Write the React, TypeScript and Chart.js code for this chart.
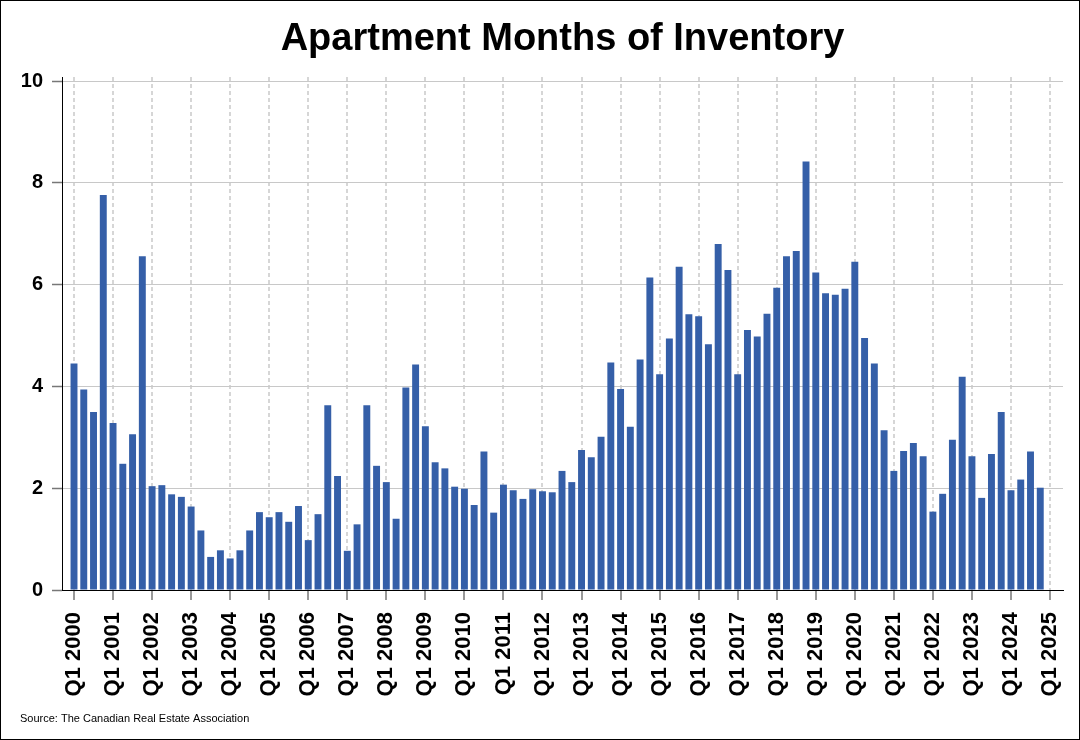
import React, { useEffect, useRef } from "react";
import { Chart, registerables } from "chart.js";

Chart.register(...registerables);

const TITLE = "Apartment Months of Inventory";
const SOURCE = "Source: The Canadian Real Estate Association";
const FONT = "'Liberation Sans', Arial, Helvetica, sans-serif";

// Quarterly months of inventory, Q1 2000 .. Q4 2024
const inventory: number[] = [
  4.45, 3.94, 3.5, 7.76, 3.28, 2.48, 3.06, 6.56,
  2.04, 2.06, 1.88, 1.83, 1.64, 1.17, 0.65, 0.78,
  0.62, 0.78, 1.17, 1.53, 1.43, 1.53, 1.34, 1.65,
  0.98, 1.49, 3.63, 2.24, 0.77, 1.29, 3.63, 2.44,
  2.12, 1.4, 3.98, 4.43, 3.22, 2.51, 2.39, 2.03,
  1.99, 1.67, 2.72, 1.52, 2.07, 1.96, 1.79, 1.98,
  1.94, 1.92, 2.34, 2.12, 2.75, 2.61, 3.01, 4.47,
  3.95, 3.21, 4.53, 6.14, 4.24, 4.94, 6.35, 5.42,
  5.38, 4.83, 6.8, 6.29, 4.24, 5.11, 4.98, 5.43,
  5.94, 6.56, 6.66, 8.42, 6.24, 5.83, 5.8, 5.92,
  6.45, 4.95, 4.45, 3.14, 2.34, 2.73, 2.89, 2.63,
  1.54, 1.89, 2.95, 4.19, 2.63, 1.81, 2.67, 3.5,
  1.96, 2.17, 2.72, 2.01,
];

const xTickLabels: string[] = [
  "Q1 2000", "Q1 2001", "Q1 2002", "Q1 2003", "Q1 2004", "Q1 2005",
  "Q1 2006", "Q1 2007", "Q1 2008", "Q1 2009", "Q1 2010", "Q1 2011",
  "Q1 2012", "Q1 2013", "Q1 2014", "Q1 2015", "Q1 2016", "Q1 2017",
  "Q1 2018", "Q1 2019", "Q1 2020", "Q1 2021", "Q1 2022", "Q1 2023",
  "Q1 2024", "Q1 2025",
];

const yTickValues: number[] = [0, 2, 4, 6, 8, 10];

const QUARTERS_PER_YEAR = 4;

const decorPlugin = {
  id: "decor",
  beforeDraw(chart: any) {
    const { ctx, width, height } = chart;
    ctx.save();
    ctx.fillStyle = "#ffffff";
    ctx.fillRect(0, 0, width, height);
    ctx.restore();
  },
  afterDraw(chart: any) {
    const { ctx, chartArea, width, height } = chart;
    ctx.save();
    ctx.fillStyle = "#000000";
    ctx.font = `bold 38px ${FONT}`;
    ctx.textAlign = "center";
    ctx.textBaseline = "alphabetic";
    ctx.fillText(TITLE, (chartArea.left + chartArea.right) / 2, 50);
    ctx.font = `11px ${FONT}`;
    ctx.textAlign = "left";
    ctx.fillText(SOURCE, 20, 722);
    ctx.strokeStyle = "#000000";
    ctx.lineWidth = 1;
    ctx.strokeRect(0.5, 0.5, width - 1, height - 1);
    ctx.restore();
  },
};

export default function App() {
  const canvasRef = useRef<HTMLCanvasElement | null>(null);

  useEffect(() => {
    document.body.style.margin = "0";
    const canvas = canvasRef.current;
    if (!canvas) return;
    const chart = new Chart(canvas, {
      type: "bar",
      data: {
        datasets: [
          {
            label: "Months of Inventory",
            data: inventory.map((v, i) => ({ x: i, y: v })),
            backgroundColor: "#355fa8",
            borderWidth: 0,
            barPercentage: 0.71,
            categoryPercentage: 1,
          },
        ],
      },
      options: {
        responsive: false,
        animation: false,
        devicePixelRatio: 1,
        layout: { padding: { left: 0, right: 17, top: 77, bottom: 0 } },
        plugins: {
          legend: { display: false },
          tooltip: { enabled: false },
          title: { display: false },
        },
        scales: {
          x: {
            type: "linear",
            offset: false,
            min: -1.23,
            max: 101.33,
            afterBuildTicks: (s: any) => {
              s.ticks = xTickLabels.map((_, i) => ({ value: i * QUARTERS_PER_YEAR }));
            },
            afterFit: (s: any) => {
              s.height = 150;
              s.paddingLeft = 0;
              s.paddingRight = 0;
            },
            ticks: {
              autoSkip: false,
              minRotation: 90,
              maxRotation: 90,
              padding: 12,
              color: "#000000",
              font: { family: FONT, size: 22, weight: "bold" },
              callback: (_v: any, i: number) => xTickLabels[i],
            },
            grid: {
              offset: false,
              color: "#d6d6d6",
              lineWidth: 2,
              tickLength: 10,
              tickColor: "#777777",
              tickWidth: 1.5,
              tickBorderDash: [],
            },
            border: { color: "#000000", width: 1, dash: [4, 3] },
          },
          y: {
            min: 0,
            max: 10.08,
            afterBuildTicks: (s: any) => {
              s.ticks = yTickValues.map((v) => ({ value: v }));
            },
            afterFit: (s: any) => {
              s.width = 62;
            },
            ticks: {
              padding: 9,
              color: "#000000",
              font: { family: FONT, size: 20, weight: "bold" },
            },
            grid: {
              color: "#c8c8c8",
              lineWidth: 1,
              tickLength: 10,
              tickColor: "#777777",
              tickWidth: 1.5,
            },
            border: { color: "#000000", width: 1 },
          },
        },
      },
      plugins: [decorPlugin],
    });
    return () => chart.destroy();
  }, []);

  return (
    <div style={{ width: 1080, height: 740 }}>
      <canvas ref={canvasRef} width={1080} height={740} style={{ display: "block" }} />
    </div>
  );
}
